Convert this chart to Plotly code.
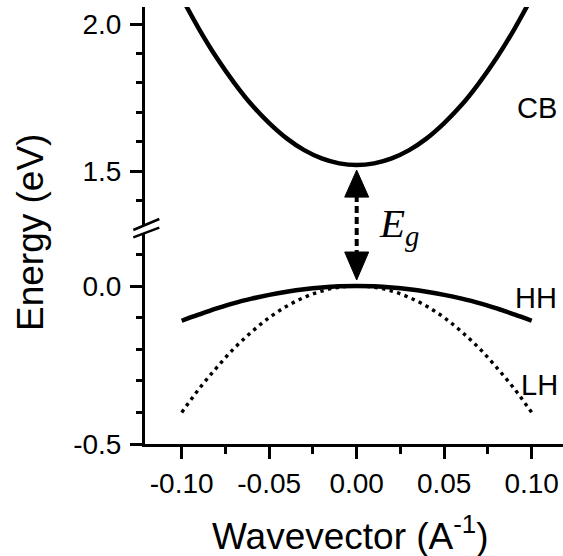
import plotly.graph_objects as go

# ---------------- data ----------------
k = [-0.10, -0.09, -0.08, -0.07, -0.06, -0.05, -0.04, -0.03, -0.02, -0.01, 0.00,
     0.01, 0.02, 0.03, 0.04, 0.05, 0.06, 0.07, 0.08, 0.09, 0.10]
cb = [2.090, 1.982, 1.885, 1.800, 1.725, 1.663, 1.611, 1.571, 1.543, 1.526, 1.520,
      1.526, 1.543, 1.571, 1.611, 1.663, 1.725, 1.800, 1.885, 1.982, 2.090]
hh = [-0.110, -0.090, -0.071, -0.054, -0.040, -0.028, -0.018, -0.010, -0.0045, -0.001, 0.000,
      -0.001, -0.0045, -0.010, -0.018, -0.028, -0.040, -0.054, -0.071, -0.090, -0.110]
lh = [-0.400, -0.325, -0.258, -0.197, -0.145, -0.100, -0.064, -0.036, -0.016, -0.004, 0.000,
      -0.004, -0.016, -0.036, -0.064, -0.100, -0.145, -0.197, -0.258, -0.325, -0.400]
e_gap = 1.52      # conduction-band minimum
vb_top = 0.0      # valence-band maximum

x_tickvals = [-0.10, -0.05, 0.00, 0.05, 0.10]
x_ticktext = ["-0.10", "-0.05", "0.00", "0.05", "0.10"]
y_low_tickvals = [-0.5, 0.0]
y_low_ticktext = ["-0.5", "0.0"]
y_up_tickvals = [1.5, 2.0]
y_up_ticktext = ["1.5", "2.0"]

# ---------------- layout geometry (pixels) ----------------
W, H = 563, 556
ML, MR, MT, MB = 145, 0, 0, 112
PW, PH = W - ML - MR, H - MT - MB          # plot area 418 x 444

X_PX_PER_UNIT = 1750.0
X0_PX = 356.7                               # pixel column of k = 0
x_range = [(ML - X0_PX) / X_PX_PER_UNIT, (W - MR - X0_PX) / X_PX_PER_UNIT]

LOW_PX_PER_EV, LOW_ZERO_PX = 316.0, 286.0   # lower panel: 0.0 eV row
UP_PX_PER_EV, UP_TWO_PX = 294.0, 24.0       # upper panel: 2.0 eV row
LOW_TOP_PX, UP_BOT_PX, UP_TOP_PX = 233.0, 225.0, 7.0


def py2paper(py):
    return (MT + PH - py) / PH


def px2paper(px):
    return (px - ML) / PW


def e_low_px(e):
    return LOW_ZERO_PX - e * LOW_PX_PER_EV


def e_up_px(e):
    return UP_TWO_PX + (2.0 - e) * UP_PX_PER_EV


low_range = [-0.5, (LOW_ZERO_PX - LOW_TOP_PX) / LOW_PX_PER_EV]
up_range = [2.0 - (UP_BOT_PX - UP_TWO_PX) / UP_PX_PER_EV,
            2.0 + (UP_TWO_PX - UP_TOP_PX) / UP_PX_PER_EV]

FONT = "Liberation Sans, Arial, Helvetica, sans-serif"
BLACK = "#000000"

fig = go.Figure()

# conduction band (upper panel)
fig.add_trace(go.Scatter(x=k, y=cb, mode="lines", yaxis="y2",
                         line=dict(color=BLACK, width=4.5, shape="spline"),
                         showlegend=False, hoverinfo="skip"))
# light-hole band (dotted)
fig.add_trace(go.Scatter(x=k, y=lh, mode="lines", yaxis="y",
                         line=dict(color=BLACK, width=3.4, dash="3.4px,4.4px", shape="spline"),
                         showlegend=False, hoverinfo="skip"))
# heavy-hole band
fig.add_trace(go.Scatter(x=k, y=hh, mode="lines", yaxis="y",
                         line=dict(color=BLACK, width=4.5, shape="spline"),
                         showlegend=False, hoverinfo="skip"))

axis_common = dict(
    showline=True, linecolor=BLACK, linewidth=3,
    ticks="outside", ticklen=12, tickwidth=3, tickcolor=BLACK,
    showgrid=False, zeroline=False,
    tickfont=dict(family=FONT, size=28, color=BLACK),
)

fig.update_layout(
    width=W, height=H,
    margin=dict(l=ML, r=MR, t=MT, b=MB, pad=0),
    paper_bgcolor="white", plot_bgcolor="white",
    xaxis=dict(range=x_range, tickvals=x_tickvals, ticktext=x_ticktext,
               minor=dict(dtick=0.025, tick0=0, ticklen=7, tickwidth=3,
                          tickcolor=BLACK, ticks="outside"),
               anchor="y", **axis_common),
    yaxis=dict(range=low_range, domain=[0, py2paper(LOW_TOP_PX)],
               tickvals=y_low_tickvals, ticktext=y_low_ticktext,
               ticklabelstandoff=3,
               minor=dict(dtick=0.1, tick0=0, ticklen=6, tickwidth=3,
                          tickcolor=BLACK, ticks="outside"),
               anchor="x", **axis_common),
    yaxis2=dict(range=up_range, domain=[py2paper(UP_BOT_PX), py2paper(UP_TOP_PX)],
                tickvals=y_up_tickvals, ticktext=y_up_ticktext,
                ticklabelstandoff=3,
                minor=dict(dtick=0.1, tick0=0, ticklen=6, tickwidth=3,
                           tickcolor=BLACK, ticks="outside"),
                anchor="x", **axis_common),
)

# band-gap arrow: dashed shaft plus two filled heads
head_top = dict(tip=5, base=32, half=12)
head_bot = dict(tip=6, base=34, half=12)
shaft_top_px = e_up_px(e_gap) + head_top["base"] - 2
shaft_bot_px = e_low_px(vb_top) - head_bot["base"] + 2
fig.add_shape(type="line", xref="x", yref="paper",
              x0=0, x1=0, y0=py2paper(shaft_top_px), y1=py2paper(shaft_bot_px),
              line=dict(color=BLACK, width=4, dash="7px,4px"))
fig.add_shape(type="path", xref="x", yref="y2", xsizemode="pixel", ysizemode="pixel",
              xanchor=0, yanchor=e_gap,
              path="M0,{t} L{m},{b} L{p},{b} Z".format(t=-head_top["tip"], b=-head_top["base"],
                                                       m=-head_top["half"], p=head_top["half"]),
              fillcolor=BLACK, line=dict(color=BLACK, width=1))
fig.add_shape(type="path", xref="x", yref="y", xsizemode="pixel", ysizemode="pixel",
              xanchor=0, yanchor=vb_top,
              path="M0,{t} L{m},{b} L{p},{b} Z".format(t=head_bot["tip"], b=head_bot["base"],
                                                      m=-head_bot["half"], p=head_bot["half"]),
              fillcolor=BLACK, line=dict(color=BLACK, width=1))

# axis-break marks
for (xa, ya, xb, yb) in [(133.3, 230.0, 159.3, 219.0), (133.3, 237.3, 159.3, 227.7)]:
    fig.add_shape(type="line", xref="paper", yref="paper",
                  x0=px2paper(xa), y0=py2paper(ya), x1=px2paper(xb), y1=py2paper(yb),
                  line=dict(color=BLACK, width=2.5))

# band labels
label_font = dict(family=FONT, size=29, color=BLACK)
fig.add_annotation(x=0.0905, y=1.715, xref="x", yref="y2", text="CB", showarrow=False,
                   xanchor="left", yanchor="middle", font=label_font)
fig.add_annotation(x=0.0895, y=-0.038, xref="x", yref="y", text="HH", showarrow=False,
                   xanchor="left", yanchor="middle", font=label_font)
fig.add_annotation(x=0.0925, y=-0.313, xref="x", yref="y", text="LH", showarrow=False,
                   xanchor="left", yanchor="middle", font=label_font)
fig.add_annotation(x=0.0115, y=py2paper(226), xref="x", yref="paper",
                   text="<i>E</i><sub><i>g</i></sub>", showarrow=False,
                   xanchor="left", yanchor="middle",
                   font=dict(family="Liberation Serif, DejaVu Serif, serif", size=41, color=BLACK))

# axis titles
title_font = dict(family=FONT, size=37, color=BLACK)
fig.add_annotation(x=px2paper(30), y=py2paper(233), xref="paper", yref="paper",
                   text="Energy (eV)", textangle=-90, showarrow=False,
                   xanchor="center", yanchor="middle", font=title_font)
fig.add_annotation(x=px2paper(350), y=py2paper(533), xref="paper", yref="paper",
                   text="Wavevector (A<sup>-1</sup>)", showarrow=False,
                   xanchor="center", yanchor="middle", font=title_font)

fig.write_html("out.html")
